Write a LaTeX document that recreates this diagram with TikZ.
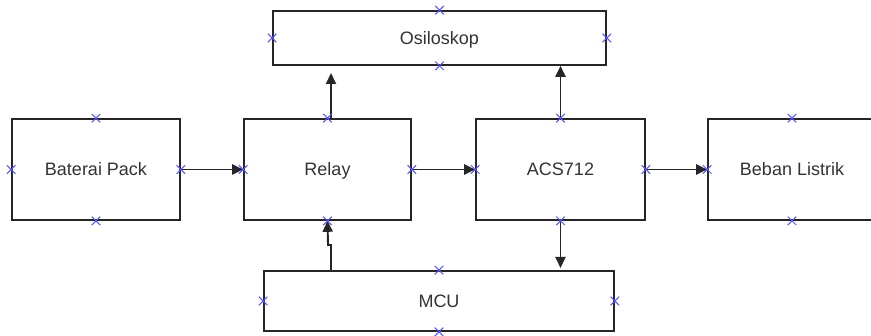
\documentclass[tikz,border=0pt]{standalone}
\usepackage{fontspec}
\setmainfont{Liberation Sans}
\usetikzlibrary{arrows.meta,shapes.misc}
\definecolor{txt}{HTML}{333333}
\definecolor{mark}{HTML}{5555FF}
\begin{document}
\begin{tikzpicture}[x=1pt,y=1pt,
  box/.style={draw=black!85,line width=1.6pt,minimum height=101pt,inner sep=0pt,
    text height=13pt,text depth=0pt,
    font=\fontsize{18}{22}\selectfont,text=txt},
  arr/.style={draw=black!85,line width=1.9pt,-{Triangle[length=11pt,width=10pt]}},
  xmark/.style={cross out,draw=mark,line width=1pt,minimum size=7.5pt,inner sep=0pt}]
\useasboundingbox (0,0) rectangle (871,-336);
\fill[white] (0,0) rectangle (871,-336);
\node[box,minimum width=168pt] (bat) at (96,-169.5) {Baterai Pack};
\node[box,minimum width=167pt] (relay) at (327.5,-169.5) {Relay};
\node[box,minimum width=169pt] (acs) at (560.5,-169.5) {ACS712};
\node[box,minimum width=168pt] (beban) at (792,-169.5) {Beban Listrik};
\node[box,minimum width=333pt,minimum height=54pt] (osc) at (439.5,-38) {Osiloskop};
\node[box,minimum width=350pt,minimum height=60pt] (mcu) at (439,-301) {MCU};
% connectors
\coordinate (oscgap) at (331,-73);
\coordinate (mcugap) at (560.5,-268);
\coordinate (jogA) at (331,-245);
\coordinate (jogB) at (328,-245);
\draw[arr] (bat.east) -- (relay.west);
\draw[arr] (relay.east) -- (acs.west);
\draw[arr] (acs.east) -- (beban.west);
\draw[arr] (relay.north -| oscgap) -- (oscgap);
\draw[arr] (acs.north) -- (acs.north |- osc.south);
\draw[arr] (acs.south) -- (mcugap);
\draw[arr] (mcu.north -| jogA) -- (jogA) -- (jogB) -- (relay.south);
% connection markers
\foreach \n in {bat,relay,acs,osc,mcu}{
  \foreach \a in {north,south,east,west}{
    \node[xmark] at (\n.\a) {};
  }
}
\foreach \a in {north,south,west}{
  \node[xmark] at (beban.\a) {};
}
\end{tikzpicture}
\end{document}
